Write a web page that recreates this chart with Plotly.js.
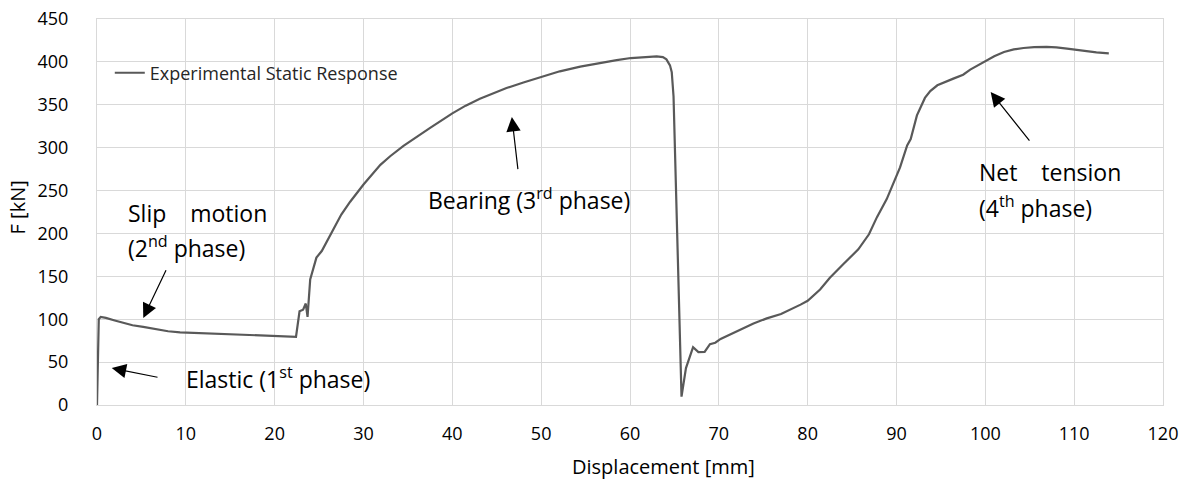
<!DOCTYPE html>
<html>
<head>
<meta charset="utf-8">
<script src="https://cdn.plot.ly/plotly-3.0.1.min.js"></script>
<style>html,body{margin:0;padding:0;background:#fff;}#chart{width:1192px;height:493px;}</style>
</head>
<body>
<div id="chart"></div>
<script>
// Displacement [mm]
var displacement = [0, 0.1, 0.2, 0.42, 1, 2, 3, 4, 5.2, 6.5, 8, 9.35, 12, 15, 18, 20, 22.1, 22.4, 22.8, 23.2, 23.5, 23.7, 24.0, 24.7, 25.3, 26.6, 27.5, 28.5, 30, 31.9, 33, 34.5, 36, 37.5, 40, 41.5, 43.1, 44.5, 46.1, 48, 50, 52.1, 54.4, 56.6, 58.5, 60.1, 62, 63.0, 63.7, 64.1, 64.5, 64.7, 64.9, 65.4, 65.8, 66.3, 67.1, 67.7, 68.4, 69.0, 69.6, 70.2, 71.7, 72.4, 73.9, 75.4, 77, 79.2, 80, 81.4, 82.5, 84.0, 85.7, 86.9, 87.8, 88.9, 89.9, 90.4, 91.2, 91.6, 92.3, 93.2, 93.8, 94.6, 96.4, 97.5, 98.3, 99.3, 100.2, 101, 102.1, 103.2, 104.3, 105.5, 106.9, 108, 109.2, 110.2, 111.1, 112.5, 113.9];
// Force [kN]
var force = [0, 50, 100, 102.7, 101.5, 98.5, 95.5, 93, 91, 88.5, 86, 84.7, 83.5, 82.8, 81.5, 80.5, 79.6, 79.5, 109.2, 111.2, 118.3, 102.7, 146.4, 171.8, 179.5, 205, 222, 237, 257, 280, 290, 302, 313, 323, 340, 349, 357, 363, 369.5, 376, 382.5, 389, 394.5, 399, 402, 404.5, 406, 406.5, 405.5, 403, 396, 388, 360, 150, 9.7, 43, 67.5, 61.7, 62, 71, 72.6, 77, 84, 88, 95, 101, 106, 117, 121.5, 134.7, 148.4, 164, 181.5, 199, 219, 240, 263.5, 277, 302.5, 310, 337.6, 358, 366, 372.7, 380.5, 385, 391, 397, 402.6, 406.5, 411.5, 414.5, 416.2, 417.2, 417.4, 417, 415.5, 414, 412.7, 411, 410];

var seriesName = 'Experimental Static Response';
var xTitle = 'Displacement [mm]';
var yTitle = 'F [kN]';
var xTicks = [0, 10, 20, 30, 40, 50, 60, 70, 80, 90, 100, 110, 120];
var yTicks = [0, 50, 100, 150, 200, 250, 300, 350, 400, 450];

// phase labels
var labelTexts = ['Slip\u00a0\u00a0\u00a0\u00a0motion', '(2<sup>nd</sup> phase)', 'Elastic (1<sup>st</sup> phase)', 'Bearing (3<sup>rd</sup> phase)', 'Net\u00a0\u00a0\u00a0\u00a0tension', '(4<sup>th</sup> phase)'];
var labelX = [3.3, 3.3, 9.8, 37.05, 99.06, 99.06];
var labelY = [224.4, 183.8, 31.3, 240, 271.3, 230.3];
// arrows: head (x,y) and tail (ax,ay)
var arrowHeadX = [1.66, 5.21, 46.7, 100.6];
var arrowHeadY = [43, 101.5, 335.7, 365];
var arrowTailX = [6.98, 7.85, 47.4, 105.1];
var arrowTailY = [32, 158.9, 273.2, 306.4];

var FONT = '"Open Sans", Lato, sans-serif';
var annotations = [];
for (var i = 0; i < labelTexts.length; i++) {
  annotations.push({x: labelX[i], y: labelY[i], xref: 'x', yref: 'y', text: labelTexts[i], showarrow: false, xanchor: 'left', yanchor: 'middle', align: 'left', font: {family: FONT, size: 23, color: '#000'}});
}
for (var j = 0; j < arrowHeadX.length; j++) {
  annotations.push({x: arrowHeadX[j], y: arrowHeadY[j], ax: arrowTailX[j], ay: arrowTailY[j], xref: 'x', yref: 'y', axref: 'x', ayref: 'y', text: '', showarrow: true, arrowhead: 2, arrowsize: 2.4, arrowwidth: 1.2, arrowcolor: '#000'});
}
// axis titles
annotations.push({xref: 'paper', yref: 'paper', x: 0.531, y: -0.1606, text: xTitle, showarrow: false, xanchor: 'center', yanchor: 'middle', font: {family: FONT, size: 20, color: '#000'}});
annotations.push({xref: 'paper', yref: 'paper', x: -0.075, y: 0.512, text: yTitle, showarrow: false, textangle: -90, xanchor: 'center', yanchor: 'middle', font: {family: FONT, size: 20, color: '#000'}});

var trace = {x: displacement, y: force, type: 'scatter', mode: 'lines', name: seriesName, line: {color: '#595959', width: 2.2}};

var layout = {
  width: 1192, height: 493,
  margin: {l: 97, r: 29, t: 19, b: 88},
  paper_bgcolor: '#fff', plot_bgcolor: '#fff',
  showlegend: true,
  legend: {x: 0.012, y: 0.86, xanchor: 'left', yanchor: 'middle', bgcolor: 'rgba(0,0,0,0)', font: {family: FONT, size: 18, color: '#262626'}},
  xaxis: {range: [0, 120], tickvals: xTicks, ticktext: xTicks.map(String), showgrid: true, gridcolor: '#d9d9d9', gridwidth: 1, zeroline: false, showline: true, linecolor: '#d9d9d9', mirror: true, ticks: 'outside', ticklen: 12, tickcolor: 'rgba(0,0,0,0)', tickfont: {family: FONT, size: 18, color: '#000'}},
  yaxis: {range: [0, 450], tickvals: yTicks, ticktext: yTicks.map(String), showgrid: true, gridcolor: '#d9d9d9', gridwidth: 1, zeroline: false, showline: true, linecolor: '#d9d9d9', mirror: true, ticks: 'outside', ticklen: 24, tickcolor: 'rgba(0,0,0,0)', tickfont: {family: FONT, size: 18, color: '#000'}},
  annotations: annotations
};

Plotly.newPlot('chart', [trace], layout, {displayModeBar: false, staticPlot: true});
</script>
</body>
</html>
